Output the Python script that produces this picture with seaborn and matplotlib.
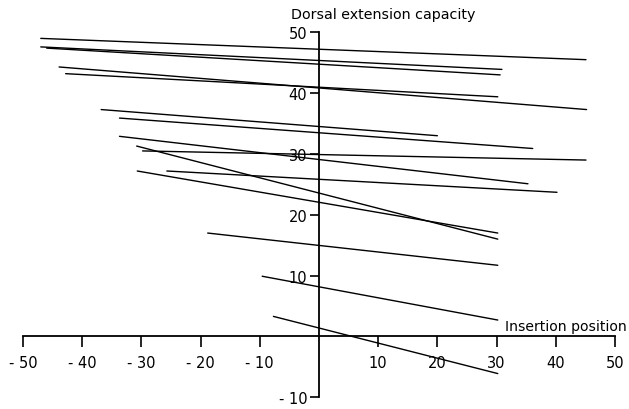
import numpy as np
import pandas as pd
import matplotlib
matplotlib.use("Agg")
import matplotlib.pyplot as plt
import seaborn as sns

# Data: each line segment from (x_start, y_start) to (x_end, y_end)
line_ids = ["A", "B1", "B2", "C", "D", "E", "F", "G", "H", "I", "J", "K", "L", "M", "N"]
x_start = [-47.0, -47.0, -46.0, -43.9, -42.8, -36.8, -33.7, -33.7, -30.8, -29.8, -25.7, -30.7, -18.8, -9.6, -7.7]
y_start = [49.0, 47.6, 47.4, 44.3, 43.2, 37.3, 35.9, 32.9, 31.3, 30.5, 27.2, 27.2, 17.0, 9.9, 3.3]
x_end = [45.1, 30.9, 30.6, 45.2, 30.2, 20.0, 36.1, 35.3, 30.2, 45.1, 40.2, 30.2, 30.2, 30.2, 30.2]
y_end = [45.5, 43.9, 43.0, 37.3, 39.4, 33.0, 30.9, 25.1, 16.0, 29.0, 23.7, 17.0, 11.7, 2.7, -6.1]

x_ticks = [-50, -40, -30, -20, -10, 10, 20, 30, 40, 50]
y_ticks = [-10, 10, 20, 30, 40, 50]
x_label = "Insertion position"
y_label = "Dorsal extension capacity"

rows = []
for lid, xs, ys, xe, ye in zip(line_ids, x_start, y_start, x_end, y_end):
    rows.append({"line": lid, "x": xs, "y": ys})
    rows.append({"line": lid, "x": xe, "y": ye})
df = pd.DataFrame(rows)

sns.set_style("white")
plt.rcParams["font.family"] = ["DejaVu Sans"]

fig = plt.figure(figsize=(6.29, 4.10), dpi=100)
ax = fig.add_axes([23 / 629, 1 - 398.3 / 410, (615 - 23) / 629, (398.3 - 33.3) / 410])

sns.lineplot(data=df, x="x", y="y", units="line", estimator=None,
             color="black", linewidth=1.0, sort=False, ax=ax, legend=False)

ax.set_xlim(-50, 50)
ax.set_ylim(-10, 50)
ax.spines["left"].set_position(("data", 0))
ax.spines["bottom"].set_position(("data", 0))
ax.spines["right"].set_visible(False)
ax.spines["top"].set_visible(False)
for s in ("left", "bottom"):
    ax.spines[s].set_color("black")
    ax.spines[s].set_linewidth(1.3)

ax.set_xticks(x_ticks)
ax.set_xticklabels([("- %d" % -t) if t < 0 else str(t) for t in x_ticks])
ax.set_yticks(y_ticks)
ax.set_yticklabels([("- %d" % -t) if t < 0 else str(t) for t in y_ticks])
ax.tick_params(axis="x", direction="out", length=8, width=1.2, pad=5,
               labelsize=10.5, colors="black", bottom=True)
ax.tick_params(axis="y", direction="out", length=6.5, width=1.2, pad=2,
               labelsize=10.5, colors="black", left=True)
ax.set_xlabel("")
ax.set_ylabel("")
ax.grid(False)

ax.text(31.4, 1.0, x_label, ha="left", va="baseline", fontsize=10.1, color="black")
ax.text(-4.7, 52.4, y_label, ha="left", va="baseline", fontsize=10.3, color="black",
        clip_on=False)

fig.savefig("out.png", dpi=100, facecolor="white")
